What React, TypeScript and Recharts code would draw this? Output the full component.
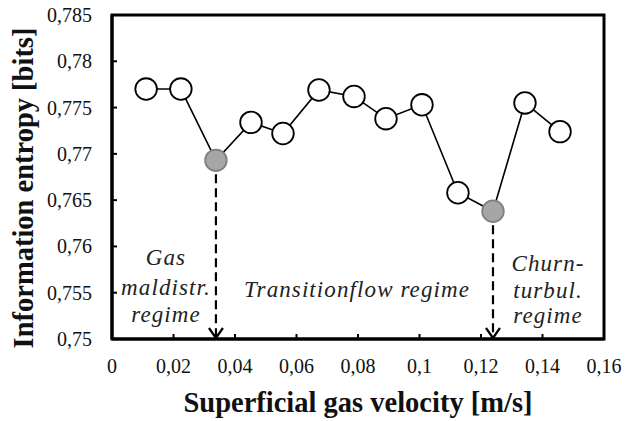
import React from 'react';
import {
  LineChart, Line, XAxis, YAxis, ReferenceArea, Label, Customized,
} from 'recharts';

const velocities = [0.0111, 0.0224, 0.0338, 0.0452, 0.0556, 0.0673, 0.0787, 0.0891, 0.1008, 0.1125, 0.1239, 0.1343, 0.1457];
const entropies = [0.7770, 0.7770, 0.7693, 0.7734, 0.7722, 0.7769, 0.7762, 0.7738, 0.7753, 0.7658, 0.7638, 0.7755, 0.7724];
const transitionIdx = [2, 10];
const xTicks = [0, 0.02, 0.04, 0.06, 0.08, 0.1, 0.12, 0.14, 0.16];
const yTicks = [0.75, 0.755, 0.76, 0.765, 0.77, 0.775, 0.78, 0.785];
const xTitle = 'Superficial gas velocity [m/s]';
const yTitle = 'Information entropy [bits]';
const regimeLabels = [
  { lines: ['Gas', 'maldistr.', 'regime'], cx: 166, baselines: [265, 295, 322] },
  { lines: ['Transitionflow regime'], cx: 357, baselines: [297] },
  { lines: ['Churn-', 'turbul.', 'regime'], cx: 548, baselines: [271, 298, 323] },
];

const data = velocities.map((x, i) => ({ x, y: entropies[i] }));
const arrowData = transitionIdx.map((i) => [
  { x: velocities[i], y: entropies[i] },
  { x: velocities[i], y: yTicks[0] },
]);

const SERIF = 'Liberation Serif, Times New Roman, serif';
const fmt = (v: number) => String(v).replace('.', ',');

const MainDot = (props: any) => {
  const { cx, cy, index } = props;
  const gray = transitionIdx.includes(index);
  return (
    <circle
      key={`d${index}`}
      cx={cx}
      cy={cy}
      r={10.8}
      fill={gray ? '#a6a6a6' : '#ffffff'}
      stroke={gray ? '#808080' : '#000000'}
      strokeWidth={1.8}
    />
  );
};

const ArrowHead = (props: any) => {
  const { cx, cy, index } = props;
  if (index !== 1) return <g key={`a${index}`} />;
  return (
    <path
      key={`a${index}`}
      d={`M${cx - 7},${cy - 11} L${cx},${cy - 1} L${cx + 7},${cy - 11}`}
      fill="none"
      stroke="#000"
      strokeWidth={2.2}
    />
  );
};

const XTick = (props: any) => {
  const { x, y, payload } = props;
  return (
    <text
      x={x}
      y={y + 14}
      textAnchor="middle"
      style={{ fontFamily: SERIF, fontSize: 20, fill: '#111' }}
    >
      {fmt(payload.value)}
    </text>
  );
};

const YTick = (props: any) => {
  const { x, y, payload } = props;
  return (
    <text
      x={x}
      y={y + 7}
      textAnchor="end"
      style={{ fontFamily: SERIF, fontSize: 20, fill: '#111' }}
    >
      {fmt(payload.value)}
    </text>
  );
};

const RegimeText = () => (
  <g>
    {regimeLabels.map((r, k) =>
      r.lines.map((t, j) => (
        <text
          key={`${k}-${j}`}
          x={r.cx}
          y={r.baselines[j]}
          textAnchor="middle"
          style={{ fontFamily: SERIF, fontStyle: 'italic', fontSize: 23, letterSpacing: 1.1, fill: '#222' }}
        >
          {t}
        </text>
      ))
    )}
  </g>
);

const YTitle = (props: any) => {
  const { viewBox } = props;
  const cx = viewBox.x + 33;
  const cy = viewBox.y + viewBox.height / 2 + 11;
  return (
    <text
      x={cx}
      y={cy}
      transform={`rotate(-90, ${cx}, ${cy})`}
      textAnchor="middle"
      style={{ fontFamily: SERIF, fontWeight: 'bold', fontSize: 28.5, fill: '#111' }}
    >
      {yTitle}
    </text>
  );
};

export default function App() {
  return (
    <div style={{ position: 'absolute', left: 0, top: 0, background: '#fff', fontFamily: SERIF }}>
      <LineChart
        width={625}
        height={421}
        data={data}
        margin={{ top: 15, right: 21, bottom: 0, left: 0 }}
      >
        <XAxis
          dataKey="x"
          type="number"
          domain={[0, 0.16]}
          ticks={xTicks}
          interval={0}
          height={82}
          axisLine={{ stroke: '#000', strokeWidth: 3 }}
          tickLine={{ stroke: '#000', strokeWidth: 2 }}
          tickSize={-5}
          tickMargin={25}
          tick={<XTick />}
        >
          <Label
            value={xTitle}
            position="insideBottom"
            offset={9}
            style={{ fontFamily: SERIF, fontWeight: 'bold', fontSize: 28.5, fill: '#111' }}
          />
        </XAxis>
        <YAxis
          type="number"
          domain={[0.75, 0.785]}
          ticks={yTicks}
          interval={0}
          width={112}
          axisLine={{ stroke: '#000', strokeWidth: 3 }}
          tickLine={{ stroke: '#000', strokeWidth: 2 }}
          tickSize={-5}
          tickMargin={25}
          tick={<YTick />}
        >
          <Label content={<YTitle />} />
        </YAxis>
        <ReferenceArea
          x1={0}
          x2={0.16}
          y1={0.75}
          y2={0.785}
          fill="none"
          fillOpacity={0}
          stroke="#000"
          strokeWidth={3}
        />
        {arrowData.map((d, k) => (
          <Line
            key={`arrow${k}`}
            data={d}
            dataKey="y"
            stroke="#000"
            strokeWidth={2.2}
            strokeDasharray="9 5"
            dot={ArrowHead}
            activeDot={false}
            isAnimationActive={false}
          />
        ))}
        <Line
          dataKey="y"
          stroke="#000"
          strokeWidth={1.6}
          dot={MainDot}
          activeDot={false}
          isAnimationActive={false}
        />
        <Customized component={RegimeText} />
      </LineChart>
    </div>
  );
}
